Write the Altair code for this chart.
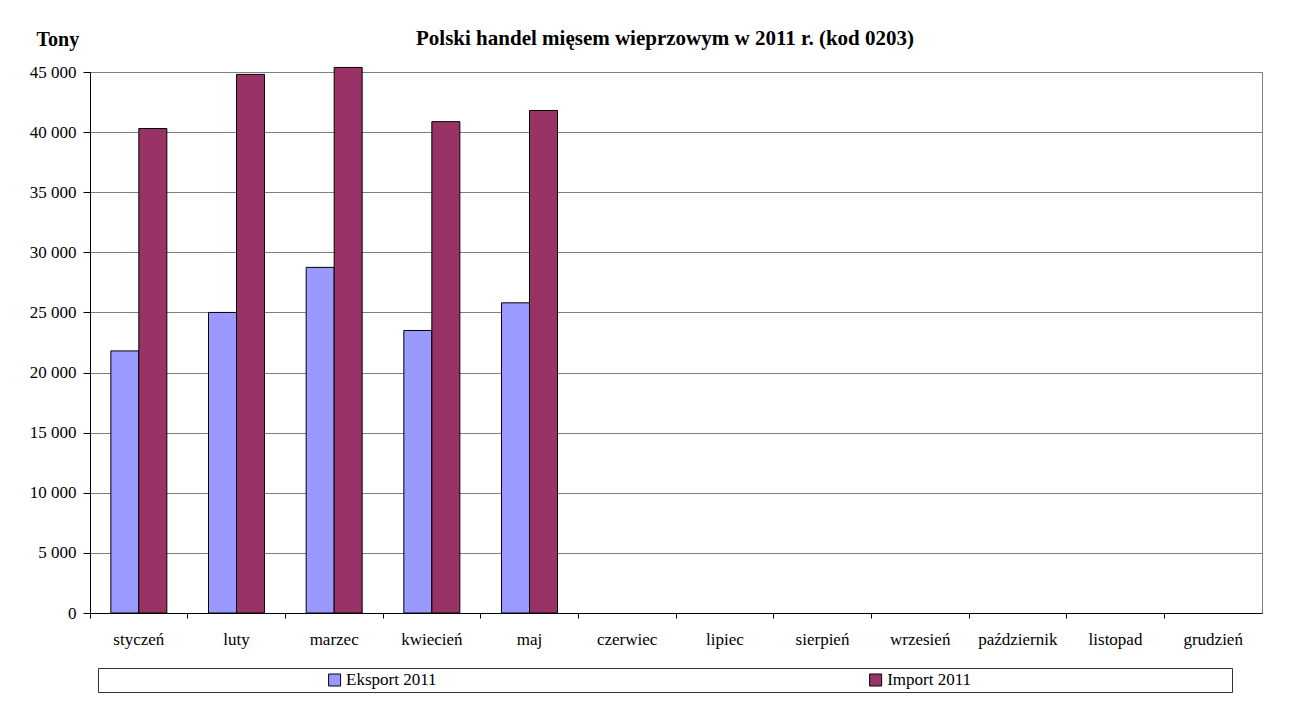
import altair as alt
import pandas as pd

months = ["styczeń", "luty", "marzec", "kwiecień", "maj", "czerwiec", "lipiec",
          "sierpień", "wrzesień", "październik", "listopad", "grudzień"]
series = ["Eksport 2011", "Import 2011"]
eksport = [21800, 25000, 28750, 23500, 25800]
import_ = [40300, 44800, 45380, 40870, 41800]
colors = ["#9999FF", "#993366"]
y_ticks = [0, 5000, 10000, 15000, 20000, 25000, 30000, 35000, 40000, 45000]

rows = []
for m, e, i in zip(months, eksport, import_):
    rows.append({"month": m, "series": series[0], "value": e})
    rows.append({"month": m, "series": series[1], "value": i})
df = pd.DataFrame(rows)

FONT = "Liberation Serif"

color = alt.Color("series:N", scale=alt.Scale(domain=series, range=colors), legend=None)

bars = alt.Chart(df).mark_bar(stroke="black", strokeWidth=1, clip=False).encode(
    x=alt.X("month:N", sort=months,
            scale=alt.Scale(domain=months, paddingInner=0, paddingOuter=0),
            axis=alt.Axis(title=None, labelAngle=0, bandPosition=0, tickSize=5,
                          labelPadding=13, labelFont=FONT, labelFontSize=17,
                          labelColor="black", domainColor="black", tickColor="black",
                          grid=False)),
    xOffset=alt.XOffset("series:N",
                        scale=alt.Scale(domain=series, paddingInner=0, paddingOuter=0.744)),
    y=alt.Y("value:Q",
            scale=alt.Scale(domain=[0, 45000], nice=False, zero=True),
            axis=alt.Axis(values=y_ticks, title="Tony", titleAngle=0, titleX=-54, titleY=-27,
                          titleAlign="left", titleBaseline="alphabetic", titleFont=FONT,
                          titleFontSize=20, titleFontWeight="bold", titleColor="black",
                          labelExpr="replace(format(datum.value, ','), ',', ' ')",
                          labelFont=FONT, labelFontSize=17, labelColor="black",
                          labelPadding=7, tickSize=7, tickColor="black",
                          domainColor="black", grid=True, gridColor="#808080",
                          gridWidth=1)),
    color=color,
).properties(
    width=1172, height=541,
    title=alt.TitleParams(text="Polski handel mięsem wieprzowym w 2011 r. (kod 0203)",
                          font=FONT, fontSize=21, fontWeight="bold", color="black",
                          anchor="middle", baseline="alphabetic", offset=26, dx=-11, dy=63),
)

leg_df = pd.DataFrame({"series": series})
leg_x = alt.X("series:N",
              scale=alt.Scale(type="point", domain=series, padding=0.548, align=0.399),
              axis=None)
leg_sym = alt.Chart(leg_df).mark_square(size=144, stroke="black", strokeWidth=1,
                                        opacity=1, filled=True).encode(x=leg_x, color=color)
leg_txt = alt.Chart(leg_df).mark_text(align="left", baseline="middle", dx=11.5,
                                      fontSize=17, font=FONT, color="black").encode(
    x=leg_x, text="series:N")
legend = alt.layer(leg_sym, leg_txt).properties(
    width=1134, height=24, view=alt.ViewBackground(stroke="#333333"))

spacer = alt.Chart(leg_df).mark_point(opacity=0).properties(
    width=1, height=24, view=alt.ViewBackground(stroke="transparent"))

legend_row = alt.hconcat(spacer, legend, spacing=7, bounds="flush")

chart = alt.vconcat(bars, legend_row, spacing=55, bounds="flush").properties(
    padding={"left": 20, "top": 19, "right": 5, "bottom": 5}
).configure_view(stroke="#808080")

chart.save("out.html", embed_options={"renderer": "svg", "actions": False})
